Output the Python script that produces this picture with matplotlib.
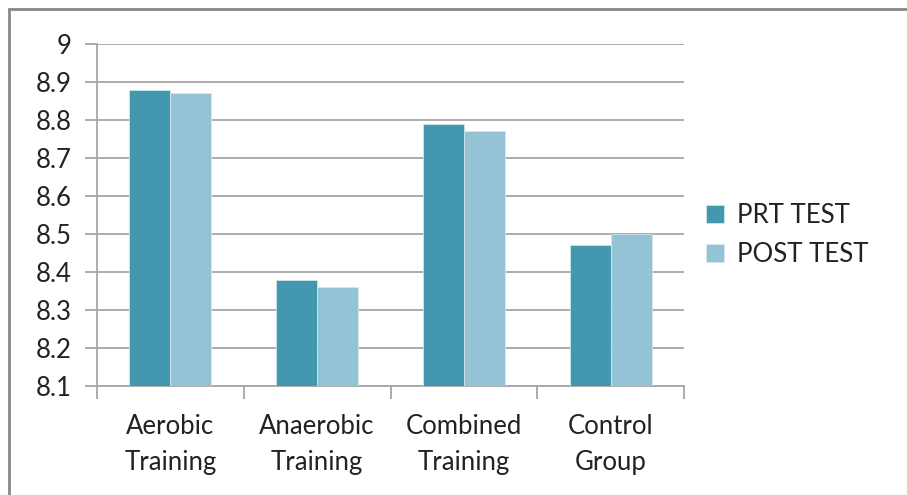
import matplotlib
matplotlib.use("Agg")
import matplotlib.pyplot as plt
import numpy as np
from matplotlib.patches import Rectangle

categories = ["Aerobic\nTraining", "Anaerobic\nTraining", "Combined\nTraining", "Control\nGroup"]
series_names = ["PRT TEST", "POST TEST"]
prt_test = [8.88, 8.38, 8.79, 8.47]
post_test = [8.87, 8.36, 8.77, 8.50]
y_ticks = [8.1, 8.2, 8.3, 8.4, 8.5, 8.6, 8.7, 8.8, 8.9, 9.0]
y_tick_labels = ["8.1", "8.2", "8.3", "8.4", "8.5", "8.6", "8.7", "8.8", "8.9", "9"]

colors = ["#4398B0", "#93C3D5"]
plt.rcParams["font.family"] = ["Lato", "DejaVu Sans"]
FS = 18.5

W, H = 907, 495
fig = plt.figure(figsize=(W / 100, H / 100), dpi=100)
fig.patch.set_facecolor("white")

# outer chart frame
fig.patches.append(Rectangle((9 / W, -0.1), 1.2, (H - 9) / H + 0.1, transform=fig.transFigure,
                             fill=False, edgecolor="#888888", linewidth=2))

x0, x1 = 97, 684
ytop, ybot = 44, 386
ax = fig.add_axes([x0 / W, 1 - ybot / H, (x1 - x0) / W, (ybot - ytop) / H])

x = np.arange(len(categories))
bw = 0.28
base = 8.1
ax.bar(x - bw / 2, np.array(prt_test) - base, bw, bottom=base, color=colors[0],
       label=series_names[0], zorder=3, edgecolor="#d8eaf0", linewidth=0.5)
ax.bar(x + bw / 2, np.array(post_test) - base, bw, bottom=base, color=colors[1],
       label=series_names[1], zorder=3, edgecolor="#d8eaf0", linewidth=0.5)

ax.set_xlim(-0.5, len(categories) - 0.5)
ax.set_ylim(8.1, 9.0)
ax.set_yticks(y_ticks)
ax.set_yticklabels(y_tick_labels, fontsize=FS, color="#222222")
ax.grid(axis="y", color="#a6a6a6", linewidth=1.3, zorder=0)

ax.set_xticks(np.arange(-0.5, len(categories), 1.0))
ax.set_xticklabels([])
ax.set_xticks(x, minor=True)
ax.set_xticklabels(categories, minor=True, fontsize=FS, color="#222222", linespacing=1.55)
ax.tick_params(axis="x", which="minor", length=0, pad=20)
ax.tick_params(axis="x", which="major", length=9, color="#a6a6a6", width=1.3)
ax.tick_params(axis="y", length=9, color="#a6a6a6", width=1.3, pad=9)

for s in ["top", "right"]:
    ax.spines[s].set_visible(False)
for s in ["left", "bottom"]:
    ax.spines[s].set_color("#a6a6a6")
    ax.spines[s].set_linewidth(1.3)

leg = fig.legend(loc="center left", bbox_to_anchor=(683 / W, 1 - 235 / H), frameon=False,
                 fontsize=FS, handlelength=0.7, handleheight=0.7, handletextpad=0.5,
                 labelspacing=0.55)
for t in leg.get_texts():
    t.set_color("#222222")

fig.savefig("out.png", dpi=100)
